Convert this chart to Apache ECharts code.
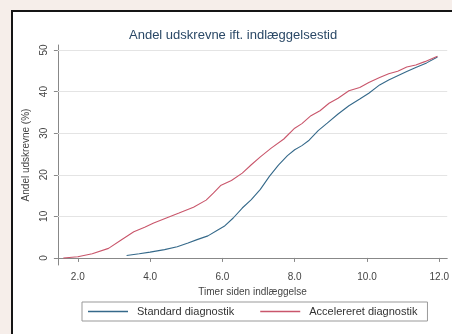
<!DOCTYPE html>
<html>
<head>
<meta charset="utf-8">
<script src="https://cdn.jsdelivr.net/npm/echarts@6/dist/echarts.min.js"></script>
<style>
  html, body { margin: 0; padding: 0; overflow: hidden; background: #f6eeea; }
  #panel { position: fixed; left: 11px; top: 10px; right: -40px; bottom: -40px;
           background: #ffffff; border-left: 2px solid #151515; border-top: 2px solid #151515; }
  #chart { position: absolute; left: 0; top: 0; width: 439px; height: 322px; }
</style>
</head>
<body>
<div id="panel"><div id="chart"></div></div>
<script>
// Cumulative share discharged (%) by hours since admission
const standardHours = [3.35, 3.7, 4.0, 4.4, 4.75, 5.05, 5.3, 5.6, 5.85, 6.05, 6.3, 6.55, 6.8, 7.05, 7.3, 7.55, 7.8, 8.0, 8.2, 8.4, 8.65, 8.9, 9.2, 9.5, 9.8, 10.05, 10.35, 10.6, 10.85, 11.1, 11.35, 11.65, 11.95];
const standardPct   = [0.6, 1.0, 1.4, 2.0, 2.7, 3.6, 4.4, 5.3, 6.6, 7.6, 9.6, 12.0, 14.0, 16.5, 19.6, 22.3, 24.6, 26.0, 27.0, 28.3, 30.6, 32.4, 34.6, 36.6, 38.2, 39.6, 41.6, 42.8, 43.8, 44.8, 45.8, 46.9, 48.3];

const acceleratedHours = [1.6, 2.0, 2.4, 2.85, 3.2, 3.55, 3.85, 4.1, 4.45, 4.8, 5.2, 5.55, 5.75, 5.95, 6.25, 6.55, 6.8, 7.05, 7.35, 7.7, 8.0, 8.2, 8.45, 8.7, 8.95, 9.2, 9.5, 9.8, 10.05, 10.35, 10.6, 10.85, 11.1, 11.35, 11.6, 11.95];
const acceleratedPct   = [0.0, 0.3, 1.0, 2.3, 4.3, 6.3, 7.4, 8.4, 9.6, 10.8, 12.2, 13.9, 15.6, 17.4, 18.6, 20.4, 22.4, 24.3, 26.4, 28.6, 31.2, 32.3, 34.2, 35.4, 37.2, 38.4, 40.2, 41.0, 42.2, 43.4, 44.3, 44.9, 45.9, 46.4, 47.2, 48.5];

const xTicks = [2, 4, 6, 8, 10, 12];
const yTicks = [0, 10, 20, 30, 40, 50];
const yGrid  = [10, 20, 30, 40, 50];

const pairs = (xs, ys) => xs.map((x, i) => [x, ys[i]]);

const labelFont = { fontFamily: 'Liberation Sans, Arial, sans-serif', fontSize: 10, color: '#444' };

const chart = echarts.init(document.getElementById('chart'), null, { renderer: 'canvas' });
chart.setOption({
  animation: false,
  title: {
    text: 'Andel udskrevne ift. indlæggelsestid',
    left: 111, top: 12,
    textStyle: { fontFamily: 'Liberation Sans, Arial, sans-serif', fontSize: 13, fontWeight: 'normal', color: '#2a4866' }
  },
  grid: { left: 44, top: 33, width: 395, height: 220 },
  xAxis: {
    type: 'value', min: 1.45, max: 12.22,
    name: 'Timer siden indlæggelse', nameLocation: 'middle', nameGap: 19,
    nameTextStyle: labelFont,
    axisLine: { show: true, lineStyle: { color: '#888', width: 1 } },
    axisTick: { show: true, length: 4, customValues: xTicks, lineStyle: { color: '#888' } },
    axisLabel: { ...labelFont, margin: 7, customValues: xTicks, formatter: v => v.toFixed(1) },
    splitLine: { show: false }
  },
  yAxis: {
    type: 'value', min: -1.7, max: 51.2,
    name: 'Andel udskrevne (%)', nameLocation: 'middle', nameGap: 25,
    nameTextStyle: labelFont,
    axisLine: { show: true, lineStyle: { color: '#888', width: 1 } },
    axisTick: { show: true, length: 4, customValues: yTicks, lineStyle: { color: '#888' } },
    axisLabel: { ...labelFont, rotate: 90, margin: 9, customValues: yTicks },
    splitLine: { show: false }
  },
  legend: {
    left: 69, top: 290,
    padding: [4, 10, 4, 6],
    icon: 'rect',
    itemWidth: 40, itemHeight: 1.5, itemGap: 26,
    borderColor: '#999', borderWidth: 1,
    textStyle: { fontFamily: 'Liberation Sans, Arial, sans-serif', fontSize: 11, color: '#333', padding: [0, 0, 0, 4] },
    data: ['Standard diagnostik', 'Accelereret diagnostik']
  },
  series: [
    {
      // horizontal reference lines behind the curves
      name: 'grid', type: 'line', data: [], z: 1,
      markLine: {
        silent: true, symbol: 'none', label: { show: false }, z: 1,
        lineStyle: { color: '#e4e4e4', width: 1, type: 'solid' },
        data: yGrid.map(v => ({ yAxis: v }))
      }
    },
    {
      name: 'Standard diagnostik', type: 'line', symbol: 'none',
      data: pairs(standardHours, standardPct),
      lineStyle: { color: '#35698a', width: 1.1 }, itemStyle: { color: '#35698a' },
      z: 3
    },
    {
      name: 'Accelereret diagnostik', type: 'line', symbol: 'none',
      data: pairs(acceleratedHours, acceleratedPct),
      lineStyle: { color: '#c9566b', width: 1.1 }, itemStyle: { color: '#c9566b' },
      z: 3
    }
  ]
});
</script>
</body>
</html>
